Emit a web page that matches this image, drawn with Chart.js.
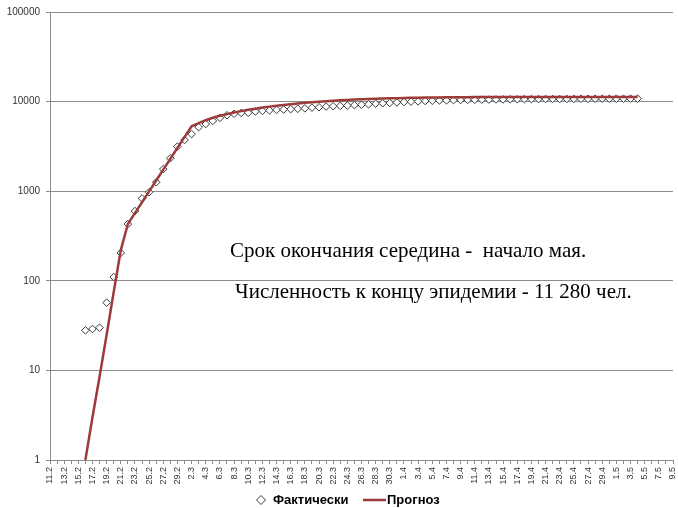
<!DOCTYPE html>
<html>
<head>
<meta charset="utf-8">
<script src="https://cdn.jsdelivr.net/npm/chart.js@4.4.0/dist/chart.umd.min.js"></script>
<style>
html,body{margin:0;padding:0;background:#fff;}
#wrap{width:678px;height:508px;position:relative;}
</style>
</head>
<body>
<div id="wrap"><canvas id="c" width="678" height="508"></canvas></div>
<script>
// Categories (days, 11.2 … 9.5)
const categories = [
  "11.2","12.2","13.2","14.2","15.2","16.2","17.2","18.2","19.2","20.2",
  "21.2","22.2","23.2","24.2","25.2","26.2","27.2","28.2","29.2",
  "1.3","2.3","3.3","4.3","5.3","6.3","7.3","8.3","9.3","10.3",
  "11.3","12.3","13.3","14.3","15.3","16.3","17.3","18.3","19.3","20.3",
  "21.3","22.3","23.3","24.3","25.3","26.3","27.3","28.3","29.3","30.3","31.3",
  "1.4","2.4","3.4","4.4","5.4","6.4","7.4","8.4","9.4","10.4",
  "11.4","12.4","13.4","14.4","15.4","16.4","17.4","18.4","19.4","20.4",
  "21.4","22.4","23.4","24.4","25.4","26.4","27.4","28.4","29.4","30.4",
  "1.5","2.5","3.5","4.5","5.5","6.5","7.5","8.5","9.5"
];

// Фактически (actual), aligned with categories
const actualValues = [
  null, null, null, null, null,
  28, 29, 30, 57, 110, 205, 430, 600, 830, 975,
  1260, 1765, 2335, 3150, 3735, 4335, 5185, 5620, 6090, 6590,
  7040, 7310, 7480, 7510, 7755, 7870, 7980, 8085, 8160, 8235,
  8320, 8410, 8565, 8650, 8800, 8895, 8960, 9035, 9135, 9240,
  9330, 9480, 9585, 9660, 9785, 9885, 9975, 10060, 10155, 10235,
  10285, 10330, 10385, 10425, 10450, 10480, 10510, 10535, 10565, 10590,
  10615, 10635, 10655, 10660, 10675, 10685, 10695, 10700, 10710, 10720,
  10730, 10740, 10750, 10760, 10765, 10775, 10780, 10795, 10800,
  null, null, null, null, null
];

// Прогноз (forecast), aligned with categories
const forecastValues = [
  null, null, null, null, null,
  1, 3, 8.5, 25, 75, 220, 430, 570, 752, 995,
  1315, 1740, 2300, 3040, 4020, 5310, 5750, 6200, 6600, 6950,
  7250, 7550, 7830, 8090, 8340, 8570, 8790, 8990, 9180, 9360,
  9530, 9690, 9840, 9980, 10110, 10230, 10340, 10440, 10530, 10610,
  10690, 10760, 10820, 10880, 10930, 10980, 11020, 11060, 11090, 11120,
  11140, 11160, 11180, 11195, 11210, 11220, 11230, 11240, 11245, 11250,
  11255, 11260, 11262, 11264, 11266, 11268, 11270, 11271, 11272, 11273,
  11274, 11275, 11276, 11277, 11278, 11278, 11279, 11279, 11280,
  null, null, null, null, null
];

// Y axis tick values
const yTicks = [1, 10, 100, 1000, 10000, 100000];

const seriesNames = ["Фактически", "Прогноз"];
const notes = [
  "Срок окончания середина -  начало мая.",
  "Численность к концу эпидемии - 11 280 чел."
];

const GRID = '#8c8c8c';
const TXT = '#333333';
const LINE_COLOR = '#9c3b39';

const notesPlugin = {
  id: 'notes',
  afterDatasetsDraw(chart) {
    const ctx = chart.ctx;
    ctx.save();
    ctx.fillStyle = '#000';
    ctx.font = "21px 'Liberation Serif', 'Times New Roman', serif";
    ctx.textBaseline = 'alphabetic';
    ctx.textAlign = 'left';
    ctx.fillText(notes[0], 230, 257);
    ctx.fillText(notes[1], 235, 298);
    ctx.restore();
  }
};

const legendPlugin = {
  id: 'customLegend',
  afterDraw(chart) {
    const ctx = chart.ctx;
    const ds = chart.data.datasets;
    const y = 500;
    ctx.save();
    ctx.fillStyle = ds[0].pointBackgroundColor;
    ctx.strokeStyle = ds[0].pointBorderColor;
    ctx.lineWidth = 1;
    Chart.helpers.drawPoint(ctx, {pointStyle: 'rectRot', radius: 4.5, rotation: 0, borderWidth: 1}, 261, y);
    ctx.font = "bold 13px 'Liberation Sans', Arial, sans-serif";
    ctx.fillStyle = '#000';
    ctx.textBaseline = 'middle';
    ctx.textAlign = 'left';
    ctx.fillText(ds[0].label, 273, y);
    ctx.strokeStyle = ds[1].borderColor;
    ctx.lineWidth = 2.5;
    ctx.beginPath();
    ctx.moveTo(363, y);
    ctx.lineTo(386, y);
    ctx.stroke();
    ctx.fillText(ds[1].label, 387, y);
    ctx.restore();
  }
};

new Chart(document.getElementById('c'), {
  type: 'line',
  data: {
    labels: categories,
    datasets: [
      {
        label: seriesNames[0],
        data: actualValues,
        showLine: false,
        pointStyle: 'rectRot',
        pointRadius: 3.8,
        pointBackgroundColor: '#ffffff',
        pointBorderColor: '#3a3a3a',
        pointBorderWidth: 1,
        order: 2
      },
      {
        label: seriesNames[1],
        data: forecastValues,
        borderColor: LINE_COLOR,
        backgroundColor: LINE_COLOR,
        borderWidth: 2.5,
        pointRadius: 0,
        tension: 0,
        fill: false,
        order: 1
      }
    ]
  },
  options: {
    responsive: false,
    animation: false,
    layout: { padding: { left: 0, right: 5, top: 11, bottom: 16 } },
    plugins: {
      legend: { display: false },
      tooltip: { enabled: false }
    },
    scales: {
      x: {
        type: 'category',
        offset: false,
        afterFit(s) { s.height = 32; s.paddingLeft = 0; s.paddingRight = 0; },
        grid: { display: true, drawOnChartArea: false, drawTicks: true, tickLength: 4, color: GRID },
        border: { display: true, color: GRID },
        ticks: {
          autoSkip: false,
          minRotation: 90,
          maxRotation: 90,
          padding: 3,
          color: TXT,
          font: { family: "'Liberation Sans', Arial, sans-serif", size: 9 },
          callback: (v, i) => (i % 2 === 0 ? categories[i] : '')
        }
      },
      y: {
        type: 'logarithmic',
        min: 1,
        max: 100000,
        afterFit(s) { s.width = 50; },
        afterBuildTicks(s) { s.ticks = yTicks.map(v => ({ value: v })); },
        grid: { color: GRID, tickLength: 4 },
        border: { display: true, color: GRID },
        ticks: {
          padding: 6,
          color: TXT,
          font: { family: "'Liberation Sans', Arial, sans-serif", size: 10 },
          callback: v => String(v)
        }
      }
    }
  },
  plugins: [notesPlugin, legendPlugin]
});
</script>
</body>
</html>
